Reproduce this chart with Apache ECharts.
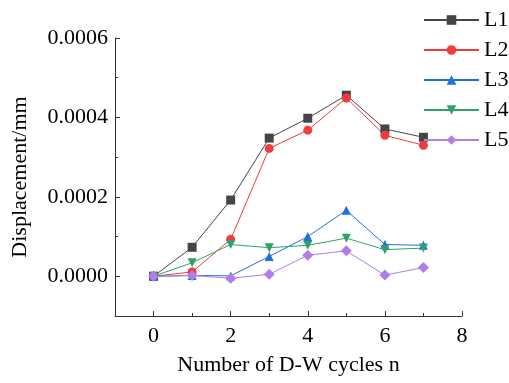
<!DOCTYPE html>
<html>
<head>
<meta charset="utf-8">
<script src="https://cdn.jsdelivr.net/npm/echarts@6/dist/echarts.min.js"></script>
<style>
  html, body { margin: 0; padding: 0; background: #fff; }
  #chart { width: 509px; height: 383px; }
</style>
</head>
<body>
<div id="chart"></div>
<script>
// data
var cycles = [0, 1, 2, 3, 4, 5, 6, 7];
var L1 = [0, 0.000073, 0.000192, 0.000348, 0.000398, 0.000456, 0.000371, 0.000350];
var L2 = [0, 0.000011, 0.000093, 0.000322, 0.000368, 0.000449, 0.000355, 0.000330];
var L3 = [0, 0.000002, 0.000001, 0.000050, 0.000100, 0.000166, 0.000080, 0.000078];
var L4 = [0, 0.000034, 0.000080, 0.000072, 0.000078, 0.000096, 0.000067, 0.000071];
var L5 = [0, 0.000002, -0.000005, 0.000005, 0.000053, 0.000064, 0.000003, 0.000022];

var xTicks = [0, 2, 4, 6, 8];
var xMinor = [1, 3, 5, 7];
var yTicks = [0, 0.0002, 0.0004, 0.0006];
var yMinor = [0.0001, 0.0003, 0.0005];

var font = 'Liberation Serif';
var axisColor = '#333';

function pairs(ys) {
    return cycles.map(function (x, i) { return [x, ys[i]]; });
}

function mkSeries(name, data, color, symbol, rotate) {
    return {
        name: name,
        type: 'line',
        data: pairs(data),
        symbol: symbol,
        symbolSize: symbol === 'diamond' ? 11 : 9,
        symbolRotate: rotate || 0,
        lineStyle: { color: color, width: 1 },
        itemStyle: { color: color },
        xAxisIndex: 0,
        yAxisIndex: 0
    };
}

var chart = echarts.init(document.getElementById('chart'));
var option = {
    animation: false,
    grid: { left: 115, right: 47, top: 38, bottom: 67 },
    legend: {
        orient: 'vertical',
        left: 423,
        top: 9,
        padding: 0,
        itemWidth: 55,
        itemHeight: 12,
        itemGap: 8,
        textStyle: { fontFamily: font, fontSize: 22, color: '#000', lineHeight: 22 },
        data: ['L1', 'L2', 'L3', 'L4', 'L5']
    },
    xAxis: [{
        type: 'value',
        min: -1, max: 8,
        name: 'Number of D-W cycles n',
        nameLocation: 'middle',
        nameGap: 38,
        nameTextStyle: { fontFamily: font, fontSize: 22, color: '#000' },
        splitLine: { show: false },
        axisLine: { onZero: false, lineStyle: { color: axisColor } },
        axisTick: { inside: true, length: 5, customValues: xTicks, lineStyle: { color: axisColor } },
        axisLabel: { customValues: xTicks, margin: 9, fontFamily: font, fontSize: 22, color: '#000' }
    }, {
        type: 'value',
        position: 'bottom',
        min: -1, max: 8,
        splitLine: { show: false },
        axisLine: { show: false, onZero: false },
        axisTick: { inside: true, length: 3, customValues: xMinor, lineStyle: { color: axisColor } },
        axisLabel: { show: false }
    }],
    yAxis: [{
        type: 'value',
        min: -0.0001, max: 0.0006,
        name: 'Displacement/mm',
        nameLocation: 'middle',
        nameGap: 84,
        nameTextStyle: { fontFamily: font, fontSize: 22, color: '#000' },
        splitLine: { show: false },
        axisLine: { show: true, onZero: false, lineStyle: { color: axisColor } },
        axisTick: { inside: true, length: 5, customValues: yTicks, lineStyle: { color: axisColor } },
        axisLabel: {
            customValues: yTicks, margin: 7, fontFamily: font, fontSize: 22, color: '#000',
            formatter: function (v) { return v.toFixed(4); }
        }
    }, {
        type: 'value',
        position: 'left',
        min: -0.0001, max: 0.0006,
        splitLine: { show: false },
        axisLine: { show: false, onZero: false },
        axisTick: { inside: true, length: 3, customValues: yMinor, lineStyle: { color: axisColor } },
        axisLabel: { show: false }
    }],
    series: [
        mkSeries('L1', L1, '#454545', 'rect'),
        mkSeries('L2', L2, '#f03c3c', 'circle'),
        mkSeries('L3', L3, '#1e6fe0', 'triangle'),
        mkSeries('L4', L4, '#2ea26a', 'triangle', 180),
        mkSeries('L5', L5, '#b07ee6', 'diamond')
    ]
};
chart.setOption(option);
</script>
</body>
</html>
